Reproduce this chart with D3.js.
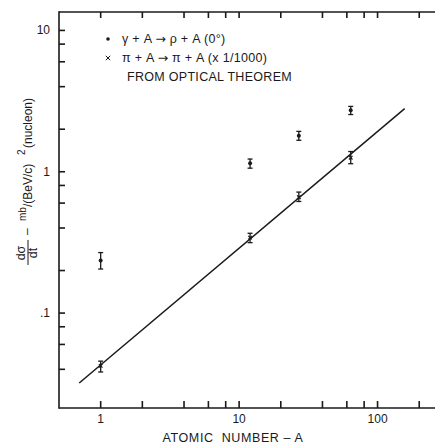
<!DOCTYPE html>
<html>
<head>
<meta charset="utf-8">
<script src="https://cdn.jsdelivr.net/npm/d3@7/dist/d3.min.js"></script>
<style>
  html, body { margin: 0; padding: 0; background: #fff; }
  svg { display: block; }
  text { font-family: "Liberation Sans", Arial, sans-serif; fill: #1a1a1a; }
</style>
</head>
<body>
<svg id="chart" width="435" height="444"></svg>
<script>
// Mass number of each target nucleus
const massNumbers = [1, 12, 27, 64];

// gamma + A -> rho + A at 0 degrees, per nucleon, with error-bar limits
const rhoSigma = [0.236, 1.15, 1.80, 2.72];
const rhoLow   = [0.205, 1.06, 1.67, 2.54];
const rhoHigh  = [0.268, 1.23, 1.93, 2.90];

// pi + A -> pi + A (scaled by 1/1000), with error-bar limits
const piSigma = [0.0423, 0.342, 0.661, 1.257];
const piLow   = [0.0383, 0.315, 0.616, 1.14];
const piHigh  = [0.0457, 0.367, 0.718, 1.39];

// Straight line from the optical theorem (end points)
const fitA     = [0.7, 157];
const fitSigma = [0.032, 2.8];

// Axis ticks and labels
const xTicks = [1, 2, 4, 6, 8, 10, 20, 40, 60, 80, 100, 200];
const xLabelValues = [1, 10, 100];
const xLabelTexts  = ["1", "10", "100"];
const yTicks = [0.04, 0.06, 0.08, 0.1, 0.2, 0.4, 0.6, 0.8, 1, 2, 4, 6, 8, 10];
const yLabelValues = [0.1, 1, 10];
const yLabelTexts  = [".1", "1", "10"];

const legendItems = [
  { symbol: "dot",   parts: ["\u03B3 + A ", "\u2192", " \u03C1 + A (0\u00B0)"] },
  { symbol: "cross", parts: ["\u03C0 + A ", "\u2192", " \u03C0 + A (x 1/1000)"] },
  { symbol: null,    parts: ["FROM OPTICAL THEOREM"] }
];

const svg = d3.select("#chart");
const ink = "#1a1a1a";

const plotLeft = 59, plotRight = 435, plotTop = 12, plotBottom = 408;

const x = d3.scaleLog().domain([0.5, 260]).range([plotLeft, plotRight]);
const y = d3.scaleLog().domain([0.0213, 13.5]).range([plotBottom, plotTop]);

// Frame lines (left, top, bottom; no right edge)
const frame = svg.append("g").attr("stroke", ink).attr("stroke-width", 1.6);
frame.append("line").attr("x1", plotLeft).attr("x2", plotLeft)
  .attr("y1", plotBottom + 0.8).attr("y2", plotTop - 0.8);
frame.append("line").attr("x1", plotLeft).attr("x2", plotRight)
  .attr("y1", plotTop).attr("y2", plotTop);
frame.append("line").attr("x1", plotLeft).attr("x2", plotRight)
  .attr("y1", plotBottom).attr("y2", plotBottom);

// Inward tick marks as small filled bars
const tickG = svg.append("g").attr("fill", ink);
tickG.selectAll("rect.xb").data(xTicks).join("rect").attr("class", "xb")
  .attr("x", d => x(d) - 0.8).attr("y", plotBottom - 7)
  .attr("width", 1.6).attr("height", 7);
tickG.selectAll("rect.xt").data(xTicks).join("rect").attr("class", "xt")
  .attr("x", d => x(d) - 0.8).attr("y", plotTop)
  .attr("width", 1.6).attr("height", 6);
tickG.selectAll("rect.yl").data(yTicks).join("rect").attr("class", "yl")
  .attr("x", plotLeft).attr("y", d => y(d) - 0.8)
  .attr("width", 6).attr("height", 1.6);

// Tick labels
svg.append("g").selectAll("text").data(xLabelValues).join("text")
  .attr("x", d => x(d)).attr("y", plotBottom + 15)
  .attr("text-anchor", "middle").style("font-size", "12px")
  .text((d, i) => xLabelTexts[i]);
svg.append("g").selectAll("text").data(yLabelValues).join("text")
  .attr("x", plotLeft - 9).attr("y", d => y(d) + 4)
  .attr("text-anchor", "end").style("font-size", "12px")
  .text((d, i) => yLabelTexts[i]);

// Optical theorem line
svg.append("path")
  .datum(fitA.map((a, i) => [a, fitSigma[i]]))
  .attr("d", d3.line().x(d => x(d[0])).y(d => y(d[1])))
  .attr("fill", "none")
  .attr("stroke", ink)
  .attr("stroke-width", 1.5);

// Error bars
function errorBars(lo, hi, cls) {
  const g = svg.append("g").attr("class", cls)
    .attr("stroke", ink).attr("stroke-width", 1.3);
  const rows = massNumbers.map((a, i) => ({ a, lo: lo[i], hi: hi[i] }));
  g.selectAll("line.bar").data(rows).join("line")
    .attr("class", "bar")
    .attr("x1", d => x(d.a)).attr("x2", d => x(d.a))
    .attr("y1", d => y(d.lo)).attr("y2", d => y(d.hi));
  ["lo", "hi"].forEach(k => {
    g.selectAll("line.cap-" + k).data(rows).join("line")
      .attr("class", "cap-" + k)
      .attr("x1", d => x(d.a) - 2.5).attr("x2", d => x(d.a) + 2.5)
      .attr("y1", d => y(d[k])).attr("y2", d => y(d[k]));
  });
}
errorBars(rhoLow, rhoHigh, "rho-err");
errorBars(piLow, piHigh, "pi-err");

// rho points: filled dots
svg.append("g").selectAll("circle")
  .data(massNumbers.map((a, i) => [a, rhoSigma[i]]))
  .join("circle")
  .attr("cx", d => x(d[0])).attr("cy", d => y(d[1]))
  .attr("r", 2).attr("fill", ink);

// pi points: small crosses
const crossPath = (cx, cy, s) =>
  `M${cx - s},${cy - s}L${cx + s},${cy + s}M${cx - s},${cy + s}L${cx + s},${cy - s}`;
svg.append("g").selectAll("path")
  .data(massNumbers.map((a, i) => [a, piSigma[i]]))
  .join("path")
  .attr("d", d => crossPath(x(d[0]), y(d[1]), 1.8))
  .attr("stroke", ink).attr("stroke-width", 1.2).attr("fill", "none");

// Legend
const legend = svg.append("g").attr("transform", "translate(108,0)");
const rowY = [38, 57, 76];
legendItems.forEach((item, i) => {
  if (item.symbol === "dot") {
    legend.append("circle").attr("cx", 0).attr("cy", rowY[i] + 1).attr("r", 1.8).attr("fill", ink);
  } else if (item.symbol === "cross") {
    legend.append("path").attr("d", crossPath(0, rowY[i] + 1, 2.2))
      .attr("stroke", ink).attr("stroke-width", 1).attr("fill", "none");
  }
  const t = legend.append("text")
    .attr("x", item.symbol ? 14 : 19)
    .attr("y", rowY[i] + 5)
    .style("font-size", "12.5px")
    .style("letter-spacing", "0.3px")
    .style("white-space", "pre");
  item.parts.forEach(p => {
    const s = t.append("tspan").text(p);
    if (p === "\u2192") s.style("font-family", "'DejaVu Sans', sans-serif").style("letter-spacing", "0");
  });
});

// X axis title
svg.append("text")
  .attr("x", 233).attr("y", 442)
  .attr("text-anchor", "middle")
  .style("font-size", "12.5px")
  .style("letter-spacing", "0.6px")
  .style("white-space", "pre")
  .text("ATOMIC  NUMBER \u2013 A");

// Y axis title, rotated to read bottom-to-top
const yt = svg.append("g").attr("transform", "translate(33,268) rotate(-90)");
yt.append("text").attr("x", 15).attr("y", -8).attr("text-anchor", "middle")
  .style("font-size", "12.5px").text("d\u03C3");
yt.append("line").attr("x1", 3).attr("x2", 28).attr("y1", -5).attr("y2", -5)
  .attr("stroke", ink).attr("stroke-width", 1);
yt.append("text").attr("x", 15).attr("y", 4).attr("text-anchor", "middle")
  .style("font-size", "12.5px").text("dt");
yt.append("text").attr("x", 33).attr("y", -2)
  .style("font-size", "12px").text("\u2013");
yt.append("text").attr("x", 47).attr("y", -7)
  .style("font-size", "10px").text("mb");
yt.append("text").attr("x", 61).attr("y", -1)
  .style("font-size", "12px").text("/(BeV/c)");
yt.append("text").attr("x", 113).attr("y", -8)
  .style("font-size", "10px").text("2");
yt.append("text").attr("x", 120).attr("y", -1)
  .style("font-size", "12px").text("(nucleon)");
</script>
</body>
</html>
